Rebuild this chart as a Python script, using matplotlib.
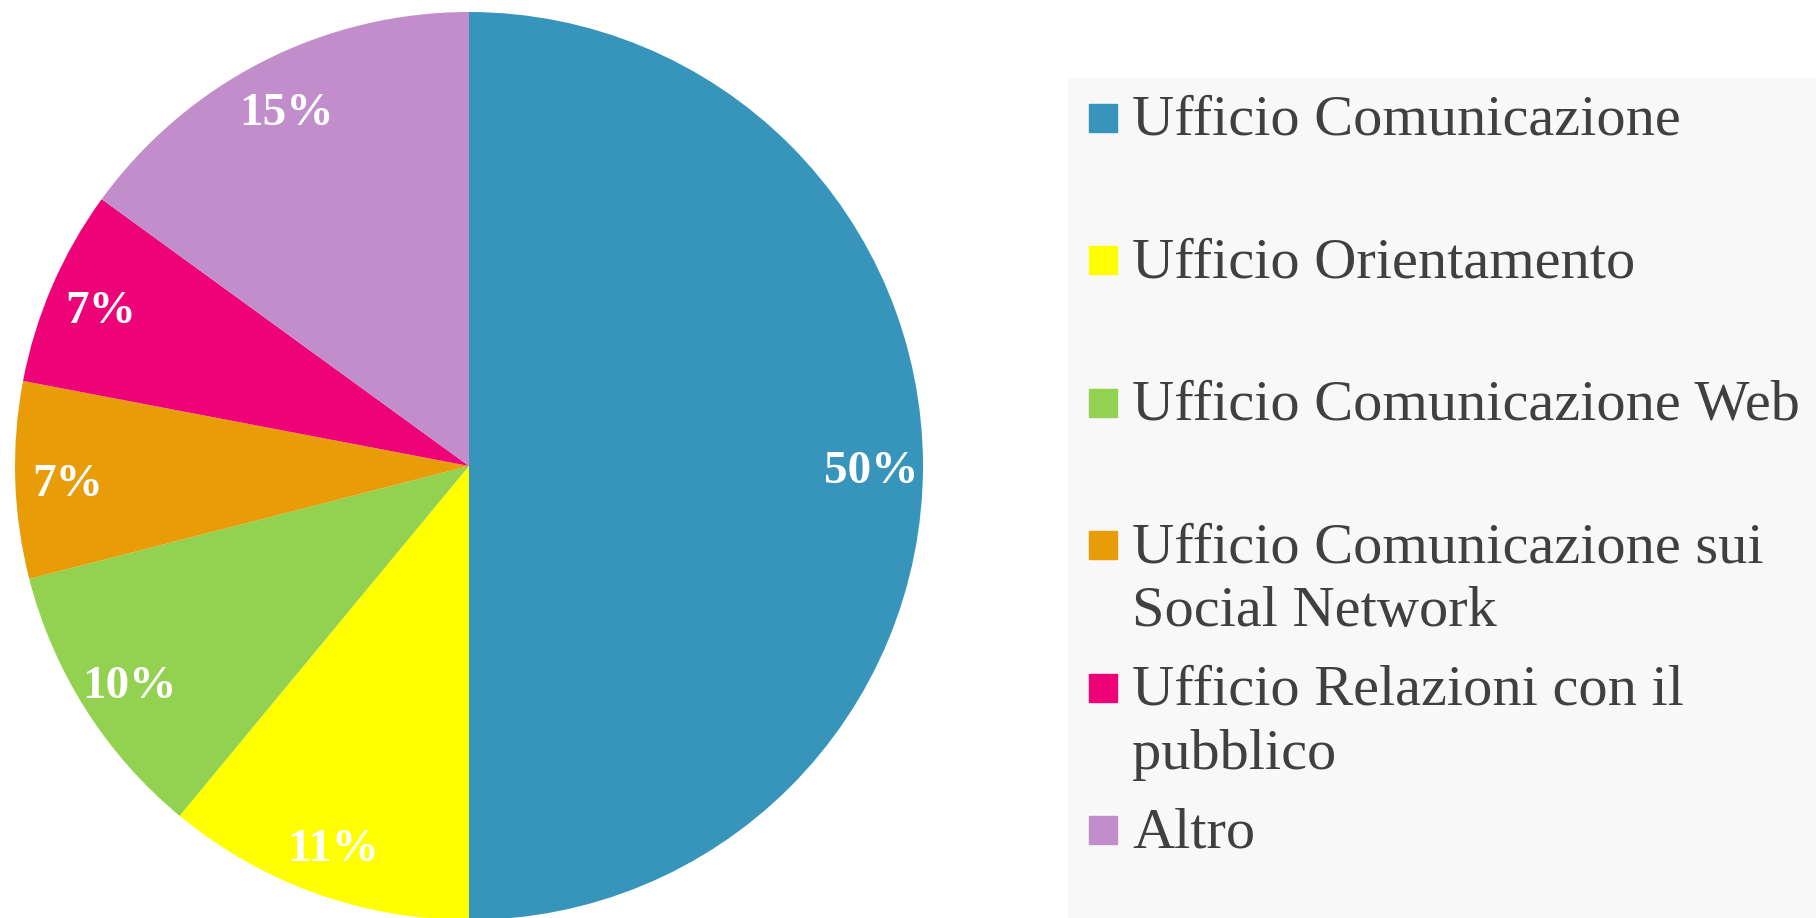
import matplotlib.pyplot as plt
from matplotlib.patches import Rectangle

labels = ['Ufficio Comunicazione', 'Ufficio Orientamento', 'Ufficio Comunicazione Web',
          'Ufficio Comunicazione sui\nSocial Network', 'Ufficio Relazioni con il\npubblico', 'Altro']
values = [50, 11, 10, 7, 7, 15]
colors = ['#3795BB', '#FFFF00', '#93D150', '#E89C07', '#EE0278', '#C28DCB']

W, H = 1816, 918
fig = plt.figure(figsize=(W / 100, H / 100), dpi=100)
plt.rcParams['font.family'] = ['Liberation Serif', 'DejaVu Serif']

# pie, centre (469, 466) px, radius 454 px
cx, cy, r = 469, 466, 454
ax = fig.add_axes([(cx - r) / W, (H - cy - r) / H, 2 * r / W, 2 * r / H])
wedges, texts, autotexts = ax.pie(values, colors=colors, startangle=90, counterclock=False,
                                  autopct='%.0f%%', pctdistance=0.885, radius=1,
                                  wedgeprops=dict(linewidth=0))
for t in autotexts:
    t.set_color('white')
    t.set_fontsize(34)
    t.set_fontweight('bold')
    x, y = t.get_position()
    t.set_position((x, y - 0.013))
ax.set_xlim(-1, 1)
ax.set_ylim(-1, 1)
ax.axis('off')

# legend panel
lx0, ly0 = 1068, 78
lax = fig.add_axes([lx0 / W, 0, (W - lx0) / W, (H - ly0) / H])
lax.set_xlim(lx0, W)
lax.set_ylim(H, ly0)
lax.axis('off')
lax.add_patch(Rectangle((lx0, ly0), W - lx0, H - ly0, color='#F8F8F8', zorder=0))

step = 142.5
for i, (lab, col) in enumerate(zip(labels, colors)):
    yc = 118 + i * step
    lax.add_patch(Rectangle((1089, yc - 14), 28, 28, color=col, zorder=2))
    for j, line in enumerate(lab.split('\n')):
        lax.text(1132, yc + 17 + j * 64, line, fontsize=42, color='#404040',
                 va='baseline', ha='left')

fig.savefig('out.png', dpi=100)
